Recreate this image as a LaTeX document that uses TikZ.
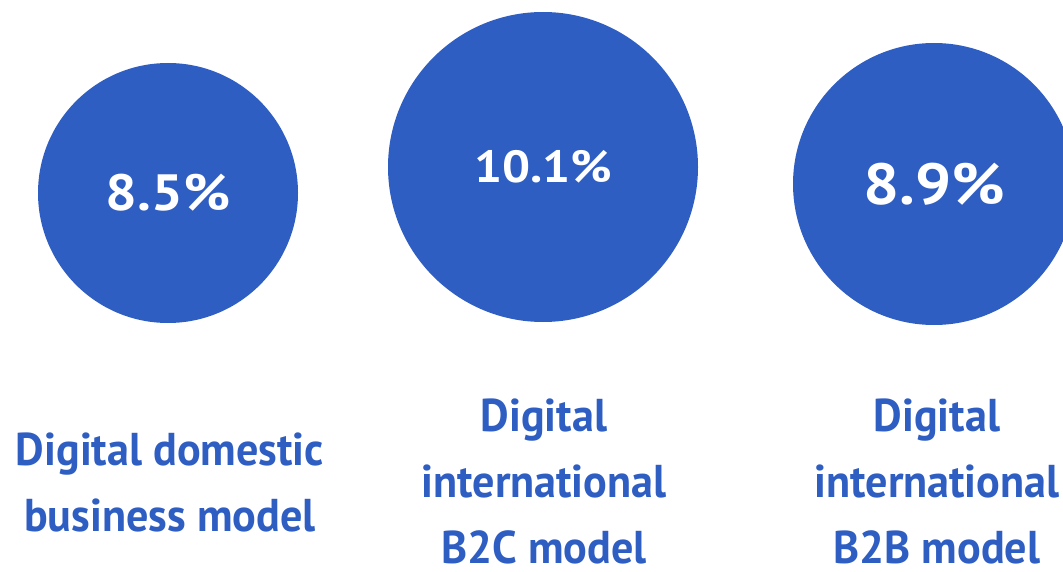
\documentclass[tikz,border=0pt]{standalone}
\usepackage{fontspec}
\setmainfont{PT Sans}
\newfontfamily\squarefont[FakeStretch=0.96]{PT Sans}
\newfontfamily\sharefont[FakeStretch=1.1]{PT Sans}
\definecolor{ecblue}{HTML}{2F5EC3}

\begin{document}
\begin{tikzpicture}[x=1pt,y=-1pt,
		share/.style={circle,fill=ecblue,text=white,inner sep=0pt,minimum size=#1},
		model/.style={text=ecblue,align=center,inner sep=0pt,font=\squarefont\bfseries\fontsize{46}{66}\selectfont}]
		\clip (0,0) rectangle (1063,572);
		% the three circles
		\node[share=260pt,font=\sharefont\bfseries\fontsize{51}{51}\selectfont] (domestic) at (168,193) {8.5\%};
		\node[share=310pt,font=\sharefont\bfseries\fontsize{45}{45}\selectfont] (btoc) at (543,167) {10.1\%};
		\node[share=282pt,font=\sharefont\bfseries\fontsize{58}{58}\selectfont] (btob) at (934,184) {8.9\%};
		% labels below
		\node[model] (domesticlabel) at (170,482) {Digital domestic\\business model};
		\node[model] (btoclabel) at (544,481) {Digital\\international\\B2C model};
		\node[model] (btoblabel) at (937,481) {Digital\\international\\B2B model};
	\end{tikzpicture}
\end{document}
